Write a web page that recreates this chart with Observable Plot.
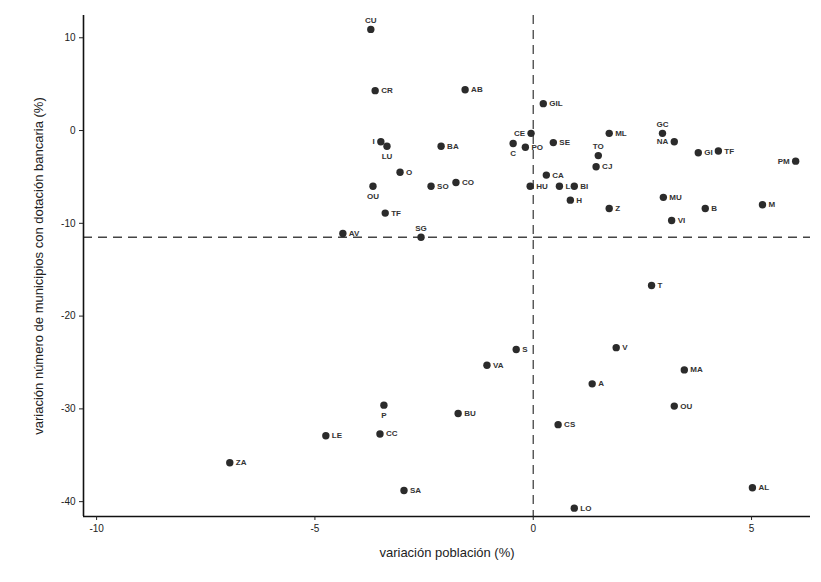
<!DOCTYPE html>
<html><head><meta charset="utf-8">
<script src="https://cdn.jsdelivr.net/npm/d3@7"></script>
<script src="https://cdn.jsdelivr.net/npm/@observablehq/plot@0.6"></script>
<style>body{margin:0;background:#fff;font-family:"Liberation Sans",Arial,sans-serif}</style>
</head><body><div id="chart"></div>
<script>
const codes = ["CU","CR","AB","GIL","CE","C","PO","SE","ML","TO","CJ","GC","NA","GI","TF","PM","CA","HU","L","BI","H","Z","MU","B","M","VI","I","LU","BA","O","OU","SO","CO","TF","AV","SG","T","S","VA","V","A","MA","OU","BU","CS","P","LE","CC","ZA","SA","AL","LO"];
const poblacion = [-3.72,-3.62,-1.56,0.23,-0.05,-0.46,-0.18,0.46,1.74,1.49,1.44,2.96,3.23,3.78,4.24,6.01,0.30,-0.07,0.60,0.94,0.85,1.74,2.98,3.94,5.25,3.17,-3.49,-3.35,-2.11,-3.05,-3.67,-2.34,-1.77,-3.39,-4.36,-2.57,2.71,-0.39,-1.06,1.90,1.35,3.46,3.23,-1.72,0.57,-3.42,-4.75,-3.51,-6.95,-2.96,5.02,0.94];
const municipios = [10.9,4.3,4.4,2.9,-0.3,-1.4,-1.8,-1.3,-0.3,-2.7,-3.9,-0.3,-1.2,-2.4,-2.2,-3.3,-4.8,-6.0,-6.0,-6.0,-7.5,-8.4,-7.2,-8.4,-8.0,-9.7,-1.2,-1.7,-1.7,-4.5,-6.0,-6.0,-5.6,-8.9,-11.1,-11.5,-16.7,-23.6,-25.3,-23.4,-27.3,-25.8,-29.7,-30.5,-31.7,-29.6,-32.9,-32.7,-35.8,-38.8,-38.5,-40.7];
const labelSide = ["t","r","r","r","l","b","r","r","r","t","r","t","l","r","r","l","r","r","r","r","r","r","r","r","r","r","l","b","r","r","b","r","r","r","r","t","r","r","r","r","r","r","r","r","r","b","r","r","r","r","r","r"];
const xTicks = [-10,-5,0,5];
const yTicks = [10,0,-10,-20,-30,-40];
const umbralY = -11.5;

const data = codes.map((c,i)=>({c, x:poblacion[i], y:municipios[i], s:labelSide[i]}));
const xDom = [-10.3, 6.35], yDom = [-41.6, 12.4];
const txt = (s, o) => Plot.text(data.filter(d=>d.s===s), {x:"x", y:"y", text:"c", fontSize:8, fontWeight:"bold", fill:"#333", ...o});

const chart = Plot.plot({
  width: 821, height: 582,
  marginLeft: 83, marginRight: 11, marginTop: 15, marginBottom: 66,
  style: {fontFamily: "'Liberation Sans', Arial, sans-serif", background: "#fff"},
  x: {domain: xDom},
  y: {domain: yDom},
  marks: [
    Plot.ruleY([umbralY], {stroke:"#444", strokeWidth:1.3, strokeDasharray:"9,6"}),
    Plot.ruleX([0], {stroke:"#444", strokeWidth:1.3, strokeDasharray:"9,6"}),
    Plot.ruleX([xDom[0]], {stroke:"#111", strokeWidth:1.6}),
    Plot.ruleY([yDom[0]], {stroke:"#111", strokeWidth:1.6}),
    Plot.axisX({ticks:xTicks, tickFormat:d=>d, tickSize:4, tickPadding:4, fontSize:10, label:"variación población (%)", labelAnchor:"center", labelArrow:"none", labelOffset:40, color:"#222"}),
    Plot.axisY({ticks:yTicks, tickFormat:d=>d, tickSize:4, tickPadding:4, fontSize:10, label:"variación número de municipios con dotación bancaria (%)", labelAnchor:"center", labelArrow:"none", labelOffset:50, color:"#222"}),
    Plot.dot(data, {x:"x", y:"y", r:3.7, fill:"#2b2b2b"}),
    txt("r", {dx:6, textAnchor:"start"}),
    txt("l", {dx:-6, textAnchor:"end"}),
    txt("t", {dy:-9}),
    txt("b", {dy:10})
  ]
});
chart.querySelectorAll('[aria-label="y-axis label"] text, [aria-label="x-axis label"] text').forEach(t=>t.setAttribute("font-size","13"));
document.getElementById("chart").append(chart);
</script></body></html>
